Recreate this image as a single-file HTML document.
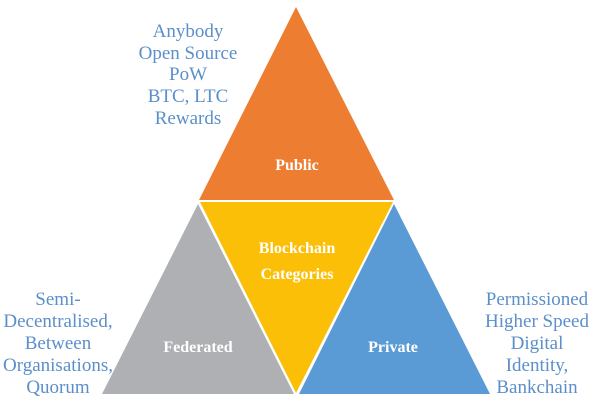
<!DOCTYPE html>
<html><head><meta charset="utf-8"><style>
body{margin:0;background:#fff;width:600px;height:401px;overflow:hidden}
svg{display:block}
.s{font-family:"Liberation Serif","Times New Roman","DejaVu Serif",serif;font-size:19px;fill:#5b8fc9;text-anchor:middle}
.l{font-family:"Liberation Serif","Times New Roman","DejaVu Serif",serif;font-size:16px;font-weight:bold;fill:#fff;text-anchor:middle}
</style></head><body>
<svg width="600" height="401">
<polygon points="296,7 199,200 394,200" fill="#ed7d31"/>
<polygon points="200,202 393,202 296,393" fill="#fbbf08"/>
<polygon points="198,204 102,394 294,394" fill="#aeb0b3"/>
<polygon points="394,204 299,394 490,394" fill="#5b9bd5"/>
<text class="l" x="297" y="170" font-family="Liberation Serif, serif">Public</text>
<text class="l" x="297" y="253" font-family="Liberation Serif, serif">Blockchain</text>
<text class="l" x="297" y="279" font-family="Liberation Serif, serif">Categories</text>
<text class="l" x="198" y="352" font-family="Liberation Serif, serif">Federated</text>
<text class="l" x="393" y="352" font-family="Liberation Serif, serif">Private</text>
<g font-family="Liberation Serif, serif">
<text class="s" x="188" y="37">Anybody</text>
<text class="s" x="188" y="59">Open Source</text>
<text class="s" x="188" y="80">PoW</text>
<text class="s" x="188" y="102">BTC, LTC</text>
<text class="s" x="188" y="124">Rewards</text>
</g>
<g font-family="Liberation Serif, serif">
<text class="s" x="58" y="305">Semi-</text>
<text class="s" x="58" y="327">Decentralised,</text>
<text class="s" x="58" y="349">Between</text>
<text class="s" x="58" y="371">Organisations,</text>
<text class="s" x="58" y="393">Quorum</text>
</g>
<g font-family="Liberation Serif, serif">
<text class="s" x="537" y="305">Permissioned</text>
<text class="s" x="537" y="327">Higher Speed</text>
<text class="s" x="537" y="349">Digital</text>
<text class="s" x="537" y="371">Identity,</text>
<text class="s" x="537" y="393">Bankchain</text>
</g>
</svg>
</body></html>
